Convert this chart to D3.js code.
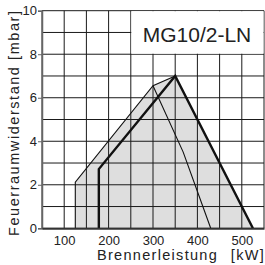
<!DOCTYPE html>
<html><head><meta charset="utf-8">
<script src="https://cdn.jsdelivr.net/npm/d3@7"></script>
<style>body{margin:0;background:#fff}svg{display:block}text{font-family:"Liberation Sans",Arial,sans-serif;fill:#222}</style>
</head><body><svg id="c" width="265" height="265"></svg>
<script>
const title = "MG10/2-LN";
const xTicks = [100, 200, 300, 400, 500];
const yTicks = [0, 2, 4, 6, 8, 10];
const xGrid = [50,100,150,200,250,300,350,400,450,500,550];
const yGrid = [0,1,2,3,4,5,6,7,8,9,10];
// shaded working field [kW, mbar]
const fieldKW   = [125, 125, 300, 350, 525];
const fieldMbar = [0, 2.12, 6.55, 7.0, 0];
// thin outline of field (left/top)
const thinOuterKW   = [125, 125, 300, 350];
const thinOuterMbar = [0, 2.12, 6.55, 7.0];
// thick curve
const thickKW   = [178, 178, 350, 525];
const thickMbar = [0, 2.72, 7.0, 0];
// thin inner curve
const thinInnerKW   = [300, 368, 430];
const thinInnerMbar = [6.55, 3.5, 0];

const svg = d3.select("#c");
const x = d3.scaleLinear().domain([50, 550]).range([42, 264]);
const y = d3.scaleLinear().domain([0, 10]).range([228.3, 10.7]);
const pts = (a, b) => a.map((v, i) => [x(v), y(b[i])]);
const line = d3.line();

// shaded field
svg.append("path").attr("d", line(pts(fieldKW, fieldMbar)) + "Z").attr("fill", "#dedede");

// grid
svg.append("g").selectAll("line").data(xGrid).join("line")
  .attr("x1", d => x(d)).attr("x2", d => x(d)).attr("y1", y(10)).attr("y2", y(0))
  .attr("stroke", "#1a1a1a").attr("stroke-width", 1);
svg.append("g").selectAll("line").data(yGrid).join("line")
  .attr("x1", x(50)).attr("x2", x(550)).attr("y1", d => y(d)).attr("y2", d => y(d))
  .attr("stroke", "#1a1a1a").attr("stroke-width", 1);

// title box (white area covering grid)
svg.append("rect").attr("x", x(250) + 0.5).attr("y", y(10) + 0.5)
  .attr("width", x(550) - x(250) - 1).attr("height", y(8) - y(10) - 1).attr("fill", "#fff");
svg.append("text").attr("x", 197).attr("y", 41.7).attr("text-anchor", "middle")
  .style("font-size", "21px").text(title);

// curves
svg.append("path").attr("d", line(pts(thinOuterKW, thinOuterMbar))).attr("fill", "none")
  .attr("stroke", "#111").attr("stroke-width", 1.1);
svg.append("path").attr("d", line(pts(thinInnerKW, thinInnerMbar))).attr("fill", "none")
  .attr("stroke", "#111").attr("stroke-width", 1.1);
svg.append("path").attr("d", line(pts(thickKW, thickMbar))).attr("fill", "none")
  .attr("stroke", "#111").attr("stroke-width", 2.4).attr("stroke-linejoin", "miter");

// axes
const yAxis = d3.axisLeft(y).tickValues(yTicks).tickSize(4).tickPadding(1);
const gy = svg.append("g").attr("transform", `translate(${x(50)},0)`).call(yAxis);
gy.select(".domain").attr("stroke", "#666").attr("stroke-width", 1.5);
gy.selectAll(".tick line").attr("stroke", "#666");
gy.selectAll("text").style("font-size", "13px").attr("fill", "#222").style("font-family", '"Liberation Sans",Arial,sans-serif');

const xAxis = d3.axisBottom(x).tickValues(xTicks).tickSize(0).tickPadding(7);
const gx = svg.append("g").attr("transform", `translate(0,${y(0)})`).call(xAxis);
gx.select(".domain").attr("stroke", "#333").attr("stroke-width", 2);
gx.selectAll("text").style("font-size", "13px").attr("fill", "#222").style("font-family", '"Liberation Sans",Arial,sans-serif');

// axis titles
svg.append("text").attr("x", 97).attr("y", 260.3).style("font-size", "14.5px")
  .style("letter-spacing", "1.3px").text("Brennerleistung");
svg.append("text").attr("x", 265).attr("y", 260.3).attr("text-anchor", "end").style("font-size", "14.5px")
  .style("letter-spacing", "1.3px").text("[kW]");
svg.append("text").attr("transform", "translate(18.5,236) rotate(-90)").style("font-size", "14.5px")
  .style("letter-spacing", "1.55px").text("Feuerraumwiderstand [mbar]");
</script></body></html>
